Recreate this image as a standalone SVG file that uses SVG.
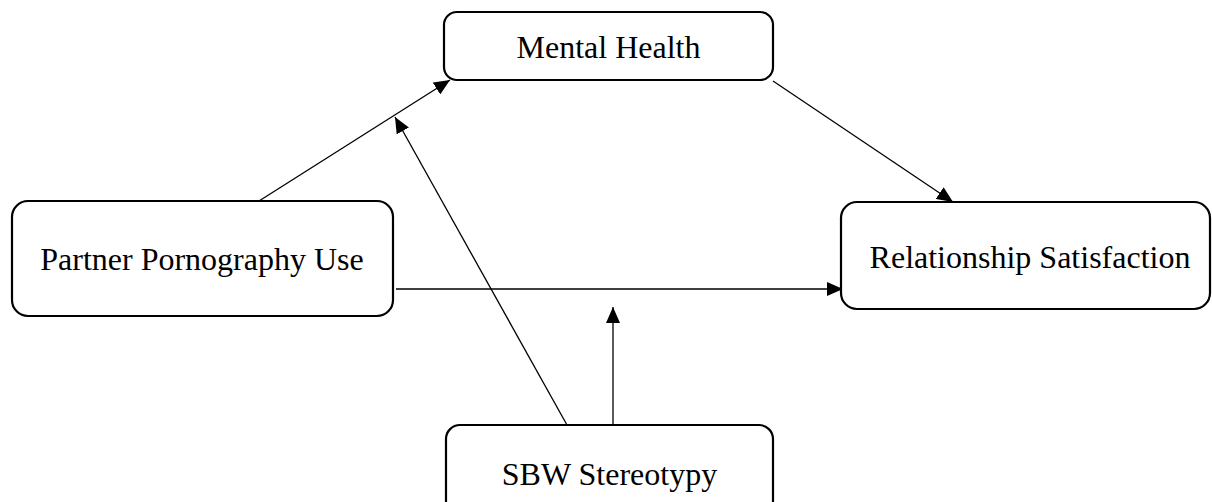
<svg xmlns="http://www.w3.org/2000/svg" width="1212" height="502" viewBox="0 0 1212 502">
  <style>
    .box { fill: #ffffff; stroke: #000000; stroke-width: 2.2; }
    .label { font-family: "Liberation Serif", "Times New Roman", serif; font-size: 32px; fill: #000000; text-anchor: middle; }
    .edge { stroke: #000000; stroke-width: 1.3; fill: none; marker-end: url(#arrow); }
  </style>
  <defs>
    <marker id="arrow" markerUnits="userSpaceOnUse" markerWidth="16" markerHeight="14" refX="16" refY="7" orient="auto">
      <path d="M0,0 L16,7 L0,14 Z" fill="#000000"/>
    </marker>
  </defs>
  <rect width="1212" height="502" fill="#ffffff"/>

  <!-- connectors -->
  <g id="connectors">
    <line class="edge" x1="259" y1="201" x2="450" y2="80"/>
    <line class="edge" x1="773" y1="81" x2="953" y2="202"/>
    <line class="edge" x1="396" y1="289" x2="843" y2="289"/>
    <line class="edge" x1="567" y1="425" x2="395" y2="117"/>
    <line class="edge" x1="613" y1="425" x2="613" y2="307"/>
  </g>

  <!-- nodes -->
  <g id="mental-health">
    <rect class="box" x="444" y="12" width="329" height="68" rx="13"/>
    <text class="label" x="608.5" y="58">Mental Health</text>
  </g>
  <g id="partner-pornography-use">
    <rect class="box" x="12" y="201" width="381" height="115" rx="16"/>
    <text class="label" x="202" y="270">Partner Pornography Use</text>
  </g>
  <g id="relationship-satisfaction">
    <rect class="box" x="841" y="202" width="369" height="107" rx="16"/>
    <text class="label" x="1030" y="268">Relationship Satisfaction</text>
  </g>
  <g id="sbw-stereotypy">
    <rect class="box" x="446" y="425" width="327" height="90" rx="14"/>
    <text class="label" x="609.5" y="485">SBW Stereotypy</text>
  </g>
</svg>
